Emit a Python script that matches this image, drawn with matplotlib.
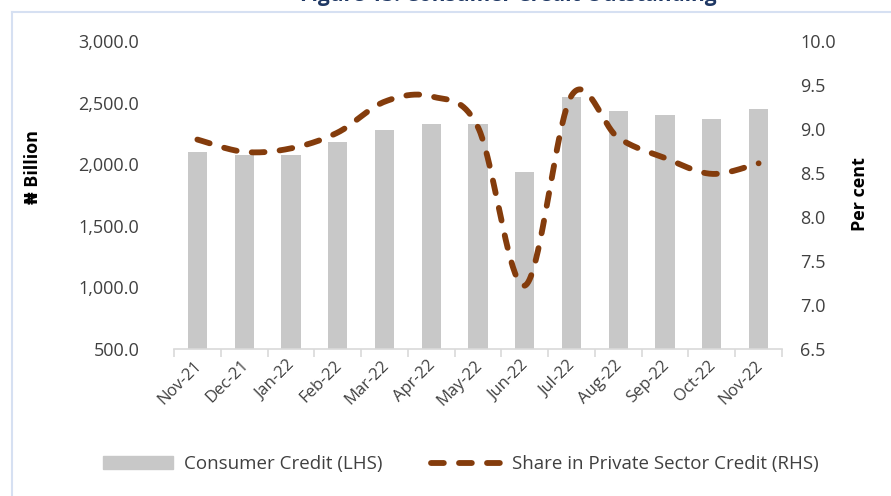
import numpy as np
import matplotlib
matplotlib.use("Agg")
import matplotlib.pyplot as plt
from matplotlib.lines import Line2D
from matplotlib.patches import Patch
import matplotlib.transforms as mtransforms

plt.rcParams["font.family"] = ["Open Sans", "DejaVu Sans"]

# data
months = ["Nov-21", "Dec-21", "Jan-22", "Feb-22", "Mar-22", "Apr-22", "May-22",
          "Jun-22", "Jul-22", "Aug-22", "Sep-22", "Oct-22", "Nov-22"]
consumer_credit = [2100, 2072, 2075, 2178, 2275, 2324, 2324,
                   1934, 2543, 2429, 2399, 2369, 2448]
share_private = [8.88, 8.74, 8.78, 8.96, 9.31, 9.37, 9.02,
                 7.22, 9.38, 8.90, 8.67, 8.49, 8.61]

left_ticks = [500, 1000, 1500, 2000, 2500, 3000]
right_ticks = [6.5, 7.0, 7.5, 8.0, 8.5, 9.0, 9.5, 10.0]

bar_col = "#C8C8C8"
line_col = "#843C0C"
txt_col = "#404040"
axis_col = "#D9D9D9"


def smooth(xs, ys, n=40):
    # excel-like smoothed line (catmull-rom as cubic bezier)
    p = np.column_stack([xs, ys]).astype(float)
    out = []
    t = np.linspace(0, 1, n)[:, None]
    for i in range(len(p) - 1):
        p0 = p[max(i - 1, 0)]
        p1 = p[i]
        p2 = p[i + 1]
        p3 = p[min(i + 2, len(p) - 1)]
        c1 = p1 + (p2 - p0) / 6
        c2 = p2 - (p3 - p1) / 6
        seg = (1 - t) ** 3 * p1 + 3 * (1 - t) ** 2 * t * c1 + 3 * (1 - t) * t ** 2 * c2 + t ** 3 * p2
        out.append(seg if i == 0 else seg[1:])
    s = np.vstack(out)
    return s[:, 0], s[:, 1]


fig = plt.figure(figsize=(8.91, 4.96), dpi=100)
ax = fig.add_axes([174 / 891, 1 - 349 / 496, 608 / 891, 308 / 496])
ax2 = ax.twinx()

x = np.arange(len(months))
ax.bar(x, consumer_credit, width=0.41, color=bar_col, zorder=2)
ax.set_xlim(-0.5, len(months) - 0.5)
ax.set_ylim(500, 3000)
ax.set_yticks(left_ticks)
ax.set_yticklabels([f"{v:,.1f}" for v in left_ticks])

dash = (0, (2.2, 2.6))
sx, sy = smooth(x, share_private)
ax2.plot(sx, sy, color=line_col, lw=4.2, linestyle=dash,
         dash_capstyle="round", solid_capstyle="round")
ax2.set_ylim(6.5, 10.0)
ax2.set_yticks(right_ticks)
ax2.set_yticklabels([f"{v:.1f}" for v in right_ticks])

for a in (ax, ax2):
    for s in a.spines.values():
        s.set_visible(False)
ax.spines["bottom"].set_visible(True)
ax.spines["bottom"].set_color(axis_col)
ax.spines["bottom"].set_linewidth(1.2)

ax.tick_params(axis="y", length=0, pad=25, labelsize=13, labelcolor=txt_col)
ax2.tick_params(axis="y", length=0, pad=13, labelsize=13, labelcolor=txt_col)

ax.set_xticks(x)
ax.set_xticklabels(months, rotation=45, ha="right", va="top",
                   rotation_mode="anchor", fontsize=12, color=txt_col)
ax.tick_params(axis="x", which="major", length=0, pad=6)
shift = mtransforms.ScaledTranslation(-4 / 100, 0, fig.dpi_scale_trans)
for lab in ax.get_xticklabels():
    lab.set_transform(lab.get_transform() + shift)
ax.set_xticks(np.arange(-0.5, len(months)), minor=True)
ax.tick_params(axis="x", which="minor", length=6, color=axis_col, width=1.2)

fig.text(33 / 891, 1 - 167 / 496, "₦ Billion", rotation=90, ha="center",
         va="center", fontsize=13, fontweight="bold", color="black")
fig.text(860 / 891, 1 - 194 / 496, "Per cent", rotation=90, ha="center",
         va="center", fontsize=13, fontweight="bold", color="black")

# partially cropped title and frame lines
fig.text(508 / 891, 1 - 1.5 / 496, "Figure 13: Consumer Credit Outstanding",
         ha="center", va="baseline", fontsize=15, fontweight="bold",
         color="#1F3864")
fig.add_artist(Line2D([12 / 891, 1], [1 - 12 / 496] * 2, color="#D6E0F2", lw=1.5))
fig.add_artist(Line2D([12 / 891] * 2, [0, 1 - 12 / 496], color="#D6E0F2", lw=1.5))

handles = [Patch(color=bar_col),
           Line2D([0], [0], color=line_col, lw=4.2, linestyle=dash,
                  dash_capstyle="round")]
fig.legend(handles, ["Consumer Credit (LHS)", "Share in Private Sector Credit (RHS)"],
           loc="center", bbox_to_anchor=(461 / 891, 1 - 464 / 496), ncol=2,
           frameon=False, fontsize=13.5, handlelength=3.7, handleheight=0.65,
           handletextpad=0.6, columnspacing=2.6, labelcolor=txt_col)

fig.savefig("out.png", dpi=100)
